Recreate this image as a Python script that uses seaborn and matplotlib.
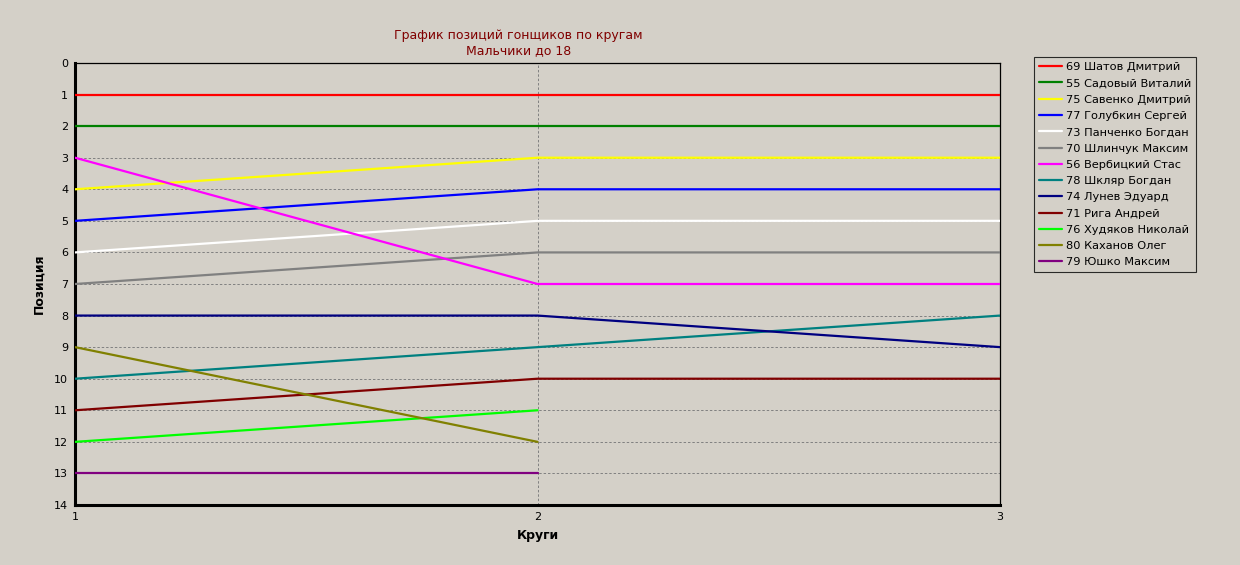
import matplotlib

matplotlib.use("Agg")

import matplotlib.pyplot as plt
import numpy as np
import pandas as pd
import seaborn as sns

# Данные: позиции гонщиков по кругам
laps = [1, 2, 3]
riders = [
    "69 Шатов Дмитрий",
    "55 Садовый Виталий",
    "75 Савенко Дмитрий",
    "77 Голубкин Сергей",
    "73 Панченко Богдан",
    "70 Шлинчук Максим",
    "56 Вербицкий Стас",
    "78 Шкляр Богдан",
    "74 Лунев Эдуард",
    "71 Рига Андрей",
    "76 Худяков Николай",
    "80 Каханов Олег",
    "79 Юшко Максим",
]
shatov = [1, 1, 1]
sadovy = [2, 2, 2]
savenko = [4, 3, 3]
golubkin = [5, 4, 4]
panchenko = [6, 5, 5]
shlinchuk = [7, 6, 6]
verbitsky = [3, 7, 7]
shklyar = [10, 9, 8]
lunev = [8, 8, 9]
riga = [11, 10, 10]
khudyakov = [12, 11, np.nan]
kakhanov = [9, 12, np.nan]
yushko = [13, 13, np.nan]
colors = [
    "#ff0000", "#008000", "#ffff00", "#0000ff", "#ffffff", "#808080",
    "#ff00ff", "#008080", "#000080", "#800000", "#00ff00", "#808000", "#800080",
]

positions = [shatov, sadovy, savenko, golubkin, panchenko, shlinchuk,
             verbitsky, shklyar, lunev, riga, khudyakov, kakhanov, yushko]
df = pd.DataFrame(
    [(r, lap, p) for r, pos in zip(riders, positions) for lap, p in zip(laps, pos)],
    columns=["rider", "lap", "pos"],
).dropna()

bg = "#d4d0c8"
sns.set_style("white")
plt.rcParams["font.family"] = ["DejaVu Sans"]
plt.rcParams["text.color"] = "black"
plt.rcParams["axes.labelcolor"] = "black"
plt.rcParams["xtick.color"] = "black"
plt.rcParams["ytick.color"] = "black"

fig = plt.figure(figsize=(12.4, 5.65), dpi=100, facecolor=bg)
ax = fig.add_axes([0.0605, 0.1062, 0.7460, 0.7823])
ax.set_facecolor(bg)

# сетка
for y in range(1, 14):
    ax.axhline(y, color="#808080", lw=0.7, ls=(0, (2.5, 2)), zorder=0)
ax.axvline(2, color="#808080", lw=0.7, ls=(0, (2.5, 2)), zorder=0)

sns.lineplot(data=df, x="lap", y="pos", hue="rider", hue_order=riders,
             palette=dict(zip(riders, colors)), linewidth=1.6, sort=False,
             estimator=None, legend=False, ax=ax, zorder=3)

ax.set_xlim(1, 3)
ax.set_ylim(14, 0)
ax.set_xticks(laps)
ax.set_yticks(range(0, 15))
ax.tick_params(labelsize=8, length=3, width=0.8, pad=2)
for side in ["left", "bottom"]:
    ax.spines[side].set_linewidth(2.2)
    ax.spines[side].set_color("black")
for side in ["top", "right"]:
    ax.spines[side].set_linewidth(0.9)
    ax.spines[side].set_color("black")
ax.set_xlabel("Круги", fontsize=9, fontweight="bold", labelpad=5)
ax.set_ylabel("Позиция", fontsize=9, fontweight="bold", labelpad=6)

fig.text(0.418, 0.937, "График позиций гонщиков по кругам", ha="center",
         va="center", fontsize=9, color="#800000")
fig.text(0.418, 0.911, "Мальчики до 18", ha="center", va="center",
         fontsize=9, color="#800000")

handles = [plt.Line2D([], [], color=c, lw=1.6) for c in colors]
leg = fig.legend(handles, riders, loc="upper left",
                 bbox_to_anchor=(1034 / 1240, 1 - 57 / 565), fontsize=8.2,
                 frameon=True, fancybox=False, edgecolor="black",
                 facecolor=bg, handlelength=2.0, handletextpad=0.35,
                 labelspacing=0.55, borderpad=0.45, borderaxespad=0)
leg.get_frame().set_linewidth(0.8)

fig.savefig("out.png", dpi=100, facecolor=bg)
